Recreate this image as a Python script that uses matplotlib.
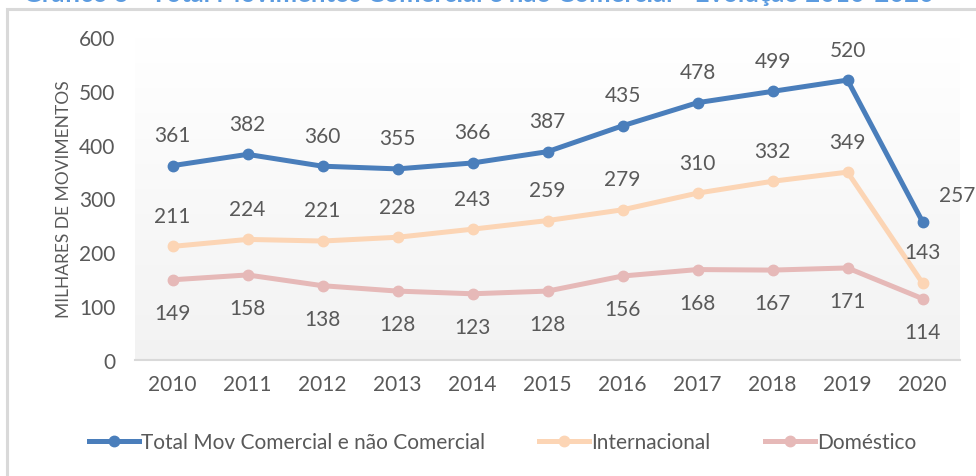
import matplotlib.pyplot as plt
import matplotlib.patches as mpatches
import numpy as np

# data
anos = ['2010', '2011', '2012', '2013', '2014', '2015', '2016', '2017', '2018', '2019', '2020']
total = [361, 382, 360, 355, 366, 387, 435, 478, 499, 520, 257]
internacional = [211, 224, 221, 228, 243, 259, 279, 310, 332, 349, 143]
domestico = [149, 158, 138, 128, 123, 128, 156, 168, 167, 171, 114]

c_total = '#4A7EBB'
c_int = '#FCD5B5'
c_dom = '#E6B9B8'
c_txt = '#595959'

plt.rcParams['font.family'] = ['Lato', 'DejaVu Sans']

fig = plt.figure(figsize=(9.76, 4.77), dpi=100)

# outer chart frame (partly cut off in the original)
fig.patches.append(mpatches.Rectangle((7 / 976, -0.05), 1.1, 1 - 9.5 / 477 + 0.05,
                                      transform=fig.transFigure, fill=False,
                                      edgecolor='#D9D9D9', linewidth=2.2))
# title, cut at the top edge like the source image
fig.text(0.49, 1 - 2.5 / 477, 'Gráfico 3 - Total Movimentos Comercial e não Comercial - Evolução 2010-2020',
         color='#5B9BE0', fontsize=18.5, fontweight='bold', ha='center', va='baseline')

ax = fig.add_axes([135 / 976, 1 - 361 / 477, 825 / 976, 323 / 477])
x = np.arange(len(anos))

# gradient fill of plot area
grad = np.linspace(0.95, 1.0, 256).reshape(-1, 1)
ax.imshow(np.dstack([grad, grad, grad]), aspect='auto', extent=[0, 1, 0, 1],
          transform=ax.transAxes, origin='lower', zorder=0)

ax.plot(x, total, color=c_total, lw=3.6, marker='o', ms=7.5, label='Total Mov Comercial e não Comercial', zorder=3)
ax.plot(x, internacional, color=c_int, lw=3.6, marker='o', ms=7.5, label='Internacional', zorder=3)
ax.plot(x, domestico, color=c_dom, lw=3.6, marker='o', ms=7.5, label='Doméstico', zorder=3)

fs = 15
for i in range(len(anos)):
    if i == len(anos) - 1:
        ax.annotate(str(total[i]), (x[i], total[i]), xytext=(25, 19), textcoords='offset points',
                    ha='center', va='center', fontsize=fs, color=c_txt)
    else:
        ax.annotate(str(total[i]), (x[i], total[i]), xytext=(0, 22), textcoords='offset points',
                    ha='center', va='center', fontsize=fs, color=c_txt)
    ax.annotate(str(internacional[i]), (x[i], internacional[i]), xytext=(0, 22), textcoords='offset points',
                ha='center', va='center', fontsize=fs, color=c_txt)
    ax.annotate(str(domestico[i]), (x[i], domestico[i]), xytext=(0, -24), textcoords='offset points',
                ha='center', va='center', fontsize=fs, color=c_txt)

ax.set_xlim(-0.5, len(anos) - 0.5)
ax.set_ylim(0, 600)
ax.set_xticks(x)
ax.set_xticklabels(anos)
ax.set_yticks(range(0, 601, 100))
ax.tick_params(length=0, labelsize=fs, labelcolor=c_txt, pad=10)
ax.tick_params(axis='y', pad=14)
for s in ['top', 'right', 'left']:
    ax.spines[s].set_visible(False)
ax.spines['bottom'].set_color('#D9D9D9')
ax.spines['bottom'].set_linewidth(1.5)
ax.set_ylabel('MILHARES DE MOVIMENTOS', fontsize=12.5, color=c_txt, labelpad=5)

fig.legend(loc='center', bbox_to_anchor=(0.515, 1 - 443 / 477), ncol=3, frameon=False,
           fontsize=15, labelcolor=c_txt, handlelength=2.4, handletextpad=0.1, columnspacing=2.6)

fig.savefig('out.png', dpi=100)
